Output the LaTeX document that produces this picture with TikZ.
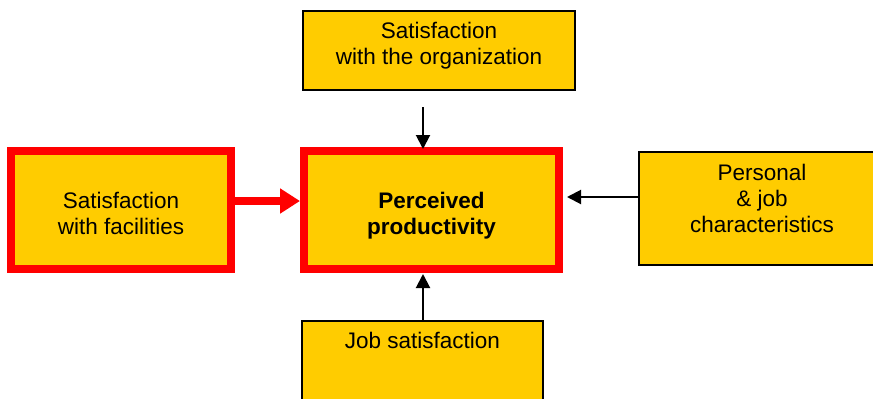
\documentclass[tikz,border=0pt]{standalone}
\usepackage{fontspec}
\setmainfont{Liberation Sans}
\usetikzlibrary{arrows.meta}
\definecolor{boxyellow}{HTML}{FFCC00}
\definecolor{boxred}{HTML}{FF0000}
\tikzset{
  boxfont/.style={font=\fontsize{22.5}{26}\selectfont},
  plainbox/.style={draw=black, line width=1.6pt, fill=boxyellow, rectangle, align=center, inner sep=0pt, boxfont},
  redbox/.style={draw=boxred, line width=8pt, fill=boxyellow, rectangle, align=center, inner sep=0pt, boxfont},
  blackarrow/.style={draw=black, line width=2pt, -{Triangle[length=14pt,width=14pt]}},
  redarrow/.style={draw=boxred, line width=8pt, -{Triangle[length=20pt,width=24pt]}}
}
\begin{document}
\begin{tikzpicture}[x=1pt,y=-1pt]
\useasboundingbox (0,0) rectangle (873,399);
\fill[white] (0,0) rectangle (873,399);
% top box
\node[plainbox, minimum width=272pt, minimum height=79pt, text depth=14pt] (org) at (439,50.5)
  {Satisfaction\\with the organization};
% center box
\node[redbox, minimum width=255pt, minimum height=118pt, font=\fontsize{22.5}{26}\selectfont\bfseries] (prod) at (431.5,210)
  {\rule{0pt}{28pt}Perceived\\productivity};
% left box
\node[redbox, minimum width=220pt, minimum height=118pt] (fac) at (121,210)
  {\rule{0pt}{24pt}Satisfaction\\with facilities};
% right box
\node[plainbox, minimum width=246pt, minimum height=113pt, text depth=20pt] (pers) at (762,208.5)
  {Personal\\\& job\\characteristics};
% bottom box
\node[plainbox, anchor=north, minimum width=241pt, inner ysep=12pt, text height=15.5pt, text depth=80pt] (job) at (422.5,320)
  {Job satisfaction};
% arrows
\coordinate (orgS) at (423,107);
\coordinate (prodN) at (423,149);
\draw[blackarrow] (orgS) -- (prodN);
\coordinate (jobN) at (423,320);
\coordinate (prodS) at (423,274);
\draw[blackarrow] (jobN) -- (prodS);
\draw[blackarrow] (pers.west |- 0,197) -- (567,197);
\draw[redarrow] (fac.east |- 0,201) -- (300,201);
\end{tikzpicture}
\end{document}
